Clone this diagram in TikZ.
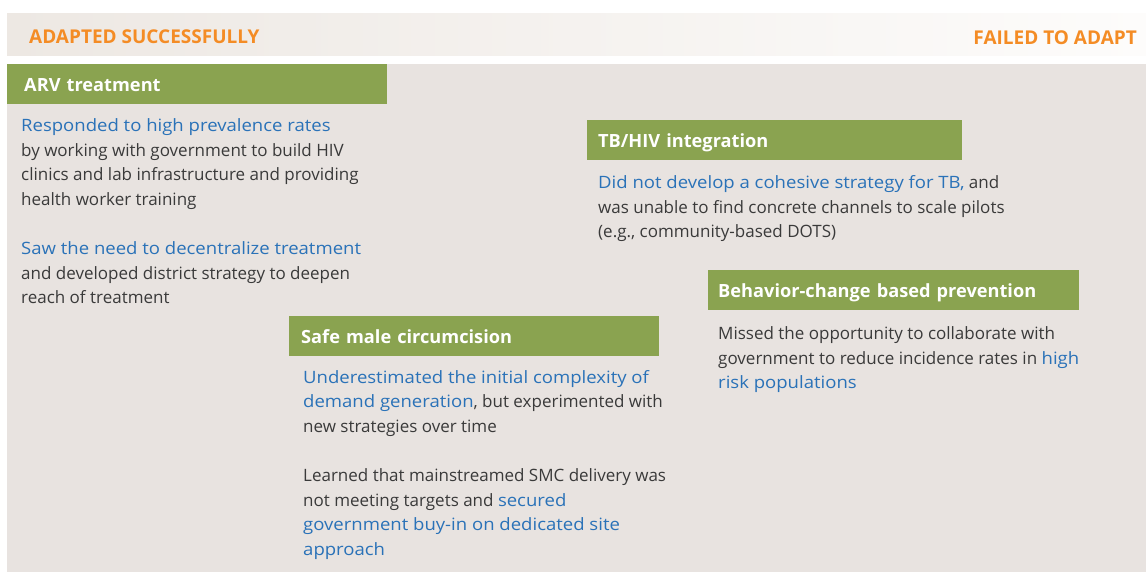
\documentclass[tikz,border=0pt]{standalone}
\usepackage{fontspec}
\setmainfont{Open Sans}
\newfontfamily\blufont[FakeStretch=1.09]{Open Sans}
\definecolor{hdrL}{HTML}{EDE8E3}
\definecolor{hdrR}{HTML}{FDFCFB}
\definecolor{bgc}{HTML}{E8E3E0}
\definecolor{barg}{HTML}{8AA350}
\definecolor{orng}{HTML}{F48C25}
\definecolor{blu}{HTML}{2A72B8}
\definecolor{txt}{HTML}{3A3A3A}
\newcommand{\hl}[1]{{\blufont\color{blu}#1}}
\tikzset{
  bar/.style={fill=barg, text=white, anchor=north west, minimum height=40pt, inner ysep=0pt,
    align=left, text height=16pt, text depth=2pt, font=\bfseries\fontsize{18.2}{20}\selectfont},
  body/.style={anchor=base west, inner sep=0pt, align=left, text=txt, font=\fontsize{17}{24.5}\selectfont},
  hdr/.style={inner sep=0pt, text=orng, font=\bfseries\fontsize{19}{22}\selectfont}
}
\begin{document}
\begin{tikzpicture}[x=1pt,y=-1pt]
\useasboundingbox (0,0) rectangle (1146,572);
\fill[white] (0,0) rectangle (1146,572);
\shade[left color=hdrL, right color=hdrR] (7,14) rectangle (1146,56);
\fill[bgc] (7,64) rectangle (1146,572);

\node[hdr, anchor=base west] (adapted) at (29,43.5) {ADAPTED SUCCESSFULLY};
\node[hdr, anchor=base east] (failed) at (1137,45) {FAILED TO ADAPT};

\node[bar, minimum width=380pt, inner xsep=17pt, text width=346pt] (arv) at (7,64) {ARV treatment};
\node[bar, minimum width=375pt, inner xsep=11pt, text width=353pt] (tb) at (587,120) {TB/HIV integration};
\node[bar, minimum width=371pt, inner xsep=10pt, text width=351pt] (beh) at (708,270) {Behavior-change based prevention};
\node[bar, minimum width=370pt, inner xsep=12pt, text width=346pt] (smc) at (289,316) {Safe male circumcision};

% body nodes are anchored at the baseline of their last line
\node[body] (arv1) at (21,205.5) {\hl{Responded to high prevalence rates}\\
by working with government to build HIV\\
clinics and lab infrastructure and providing\\
health worker training};
\node[body] (arv2) at (21,303.5) {\hl{Saw the need to decentralize treatment}\\
and developed district strategy to deepen\\
reach of treatment};

\node[body] (tb1) at (598,238) {\hl{Did not develop a cohesive strategy for TB,} and\\
was unable to find concrete channels to scale pilots\\
(e.g., community-based DOTS)};

\node[body] (beh1) at (718,388.5) {Missed the opportunity to collaborate with\\
government to reduce incidence rates in \hl{high}\\
\hl{risk populations}};

\node[body] (smc1) at (303,432) {\hl{Underestimated the initial complexity of}\\
\hl{demand generation}, but experimented with\\
new strategies over time};
\node[body] (smc2) at (303,555) {Learned that mainstreamed SMC delivery was\\
not meeting targets and \hl{secured}\\
\hl{government buy-in on dedicated site}\\
\hl{approach}};
\end{tikzpicture}
\end{document}
